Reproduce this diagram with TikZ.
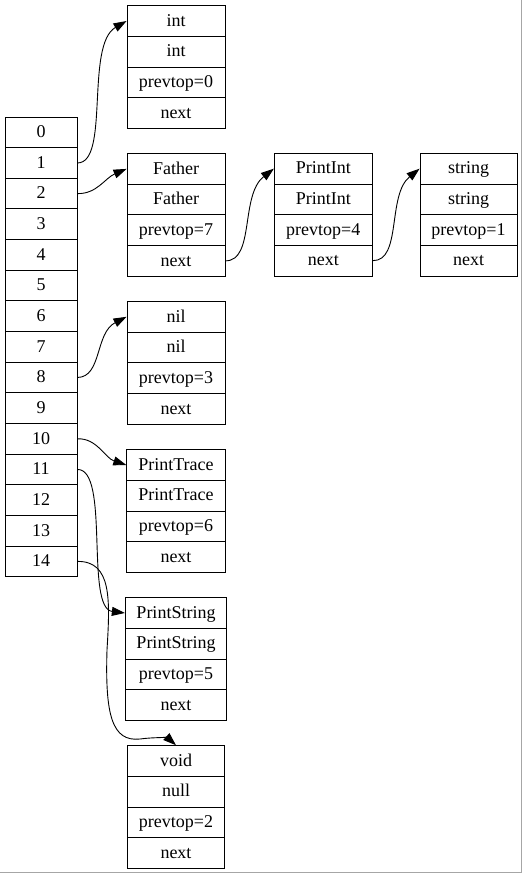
\documentclass[tikz,border=0pt]{standalone}
\usepackage{fontspec}
\setmainfont{Liberation Serif}
\usetikzlibrary{arrows.meta}

\tikzset{
  cell/.style={draw, line width=0.9pt, minimum width=72pt, minimum height=30.65pt, inner sep=0pt, text height=13pt, text depth=2.5pt},
  fld/.style={draw, line width=0.9pt, minimum width=98pt, minimum height=30.65pt, inner sep=0pt, text height=13pt, text depth=2.5pt},
  link/.style={->, line width=0.9pt, >={Triangle[length=13pt,width=9pt]}}
}

\begin{document}
\begin{tikzpicture}[x=1pt, y=-1pt, font=\fontsize{18}{20}\selectfont]
  	\useasboundingbox (0, 0) rectangle (523, 875);
  	\draw[gray!70, line width=1.5pt] (521.6, 0) -- (521.6, 872.6) -- (0, 872.6);

  	% stack of scopes
  	\foreach \i in {0,...,14}
  	  	\node[cell] (a\i) at (41, {132.3+30.65*\i}) {\i};

  	% one record per entry
  	\foreach \nm/\x/\y/\w/\ta/\tb/\tc in {int/176/21/98/int/int/0,
  	  	father/176/168.9/98/Father/Father/7,
  	  	printint/323.3/168.7/98/PrintInt/PrintInt/4,
  	  	string/468.5/168.7/97/string/string/1,
  	  	nil/176/316.8/98/nil/nil/3,
  	  	trace/176/465/98.5/PrintTrace/PrintTrace/6,
  	  	pstring/176/613/101.4/PrintString/PrintString/5,
  	  	void/176/761/97/void/null/2}
  	{
  	  	\node[fld, minimum width=\w pt] (\nm1) at (\x, \y) {\ta};
  	  	\node[fld, minimum width=\w pt] (\nm2) at (\x, {\y+30.65}) {\tb};
  	  	\node[fld, minimum width=\w pt] (\nm3) at (\x, {\y+61.3}) {prevtop=\tc};
  	  	\node[fld, minimum width=\w pt] (\nm4) at (\x, {\y+91.95}) {next};
  	}

  	% pointers
  	\draw[link] (a1.east) .. controls (110, 163) and (85, 45) .. (int1.west);
  	\draw[link] (a2.east) .. controls (97, 194) and (105, 178) .. (father1.west);
  	\draw[link] (father4.east) .. controls (255, 261) and (240, 195) .. (printint1.west);
  	\draw[link] (printint4.east) .. controls (402, 261) and (387, 195) .. (string1.west);
  	\draw[link] (a8.east) .. controls (102, 377) and (95, 333) .. (nil1.west);
  	\draw[link] (a10.east) .. controls (97, 438) and (105, 458) .. (trace1.west);
  	\draw[link] (a11.east) .. controls (110, 469) and (85, 608) .. (pstring1.west);
  	\draw[link] (a14.east) .. controls (112, 561) and (110, 600) .. (107, 650)
  	  	.. controls (105, 715) and (112, 742) .. (140, 739)
  	  	.. controls (155, 737) and (168, 738) .. (void1.north);
\end{tikzpicture}
\end{document}
